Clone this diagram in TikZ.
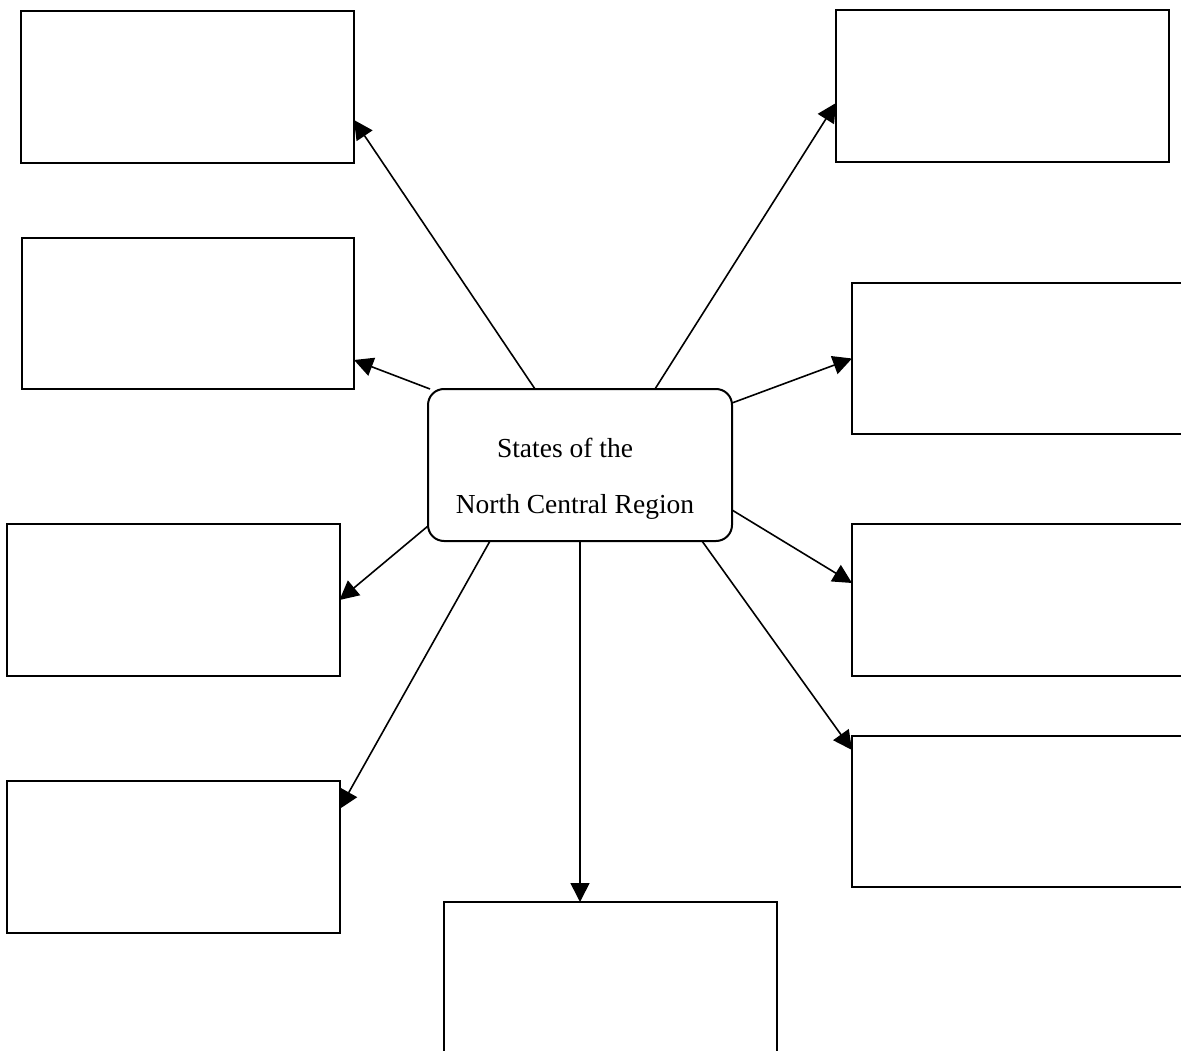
\documentclass[tikz,border=0pt]{standalone}
\usepackage{fontspec}
\setmainfont{Liberation Serif}
\usetikzlibrary{arrows.meta}
\begin{document}
\begin{tikzpicture}[x=1pt,y=-1pt,
  blankbox/.style={draw=black,line width=2pt,rectangle,inner sep=0pt,outer sep=0pt,
    minimum width=333pt,minimum height=152pt},
  hubbox/.style={draw=black,line width=2pt,rectangle,rounded corners=16pt,inner sep=0pt,outer sep=0pt,
    minimum width=304pt,minimum height=152pt},
  hubtext/.style={inner sep=0pt,anchor=base,font=\fontsize{27.5}{30}\selectfont},
  link/.style={line width=1.6pt,-{Triangle[length=19pt,width=19pt]}}]
\useasboundingbox (0,0) rectangle (1181,1051);
\clip (0,0) rectangle (1181,1051);
\fill[white] (0,0) rectangle (1181,1051);
% boxes
\node[blankbox] (t1) at (187.5,87) {};
\node[blankbox,minimum width=332pt,minimum height=151pt] (t2) at (188,313.5) {};
\node[blankbox] (l3) at (173,600) {};
\node[blankbox] (l4) at (173,857) {};
\node[blankbox] (b) at (610,978) {};
\node[blankbox] (r1) at (1002.5,86.5) {};
\node[blankbox,minimum height=151pt] (r2) at (1018.5,358.5) {};
\node[blankbox] (r3) at (1018.5,600) {};
\node[blankbox,minimum height=151pt] (r4) at (1018.5,811.5) {};
% hub
\node[hubbox] (c) at (580,465) {};
\node[hubtext] (ct1) at (565,457) {States of the};
\node[hubtext] (ct2) at (575,513) {North Central Region};
% connectors
\draw[link] ([xshift=107pt]c.north west) -- ([yshift=-33pt]t1.east);
\draw[link] ([xshift=2pt]c.north west) -- ([yshift=-46.5pt]t2.east);
\draw[link] ([yshift=-61pt]c.west) -- (l3.east);
\draw[link] ([xshift=62pt]c.south west) -- ([yshift=48pt]l4.east);
\draw[link] (c.south) -- ([xshift=-30pt]b.north);
\draw[link] ([xshift=227pt]c.north west) -- ([yshift=-16.5pt]r1.west);
\draw[link] ([yshift=62pt]c.east) -- (r2.west);
\draw[link] ([yshift=-45pt]c.east) -- ([yshift=17pt]r3.west);
\draw[link] ([xshift=274pt]c.south west) -- ([yshift=61.5pt]r4.west);
\end{tikzpicture}
\end{document}
